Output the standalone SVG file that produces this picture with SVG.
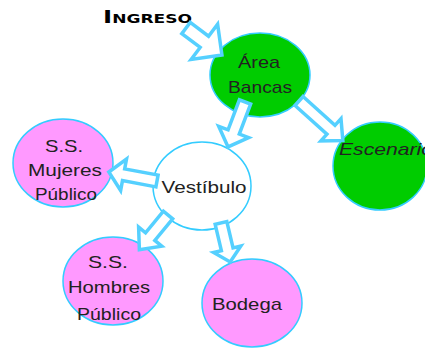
<svg xmlns="http://www.w3.org/2000/svg" width="425" height="348" viewBox="0 0 425 348">
<style>
.n{stroke:#33ccff;stroke-width:1.5}
.g{fill:#00cc00}
.p{fill:#ff99ff}
.w{fill:#ffffff}
.t{font-family:"Liberation Sans","DejaVu Sans",sans-serif;font-size:17px;fill:#222222}
.a{fill:#ffffff;stroke:#55d0ff;stroke-width:3.5;stroke-linejoin:miter}
</style>
<rect width="425" height="348" fill="#ffffff"/>
<text x="103" y="23" font-family="DejaVu Sans,sans-serif" font-weight="bold" fill="#000" textLength="89" lengthAdjust="spacingAndGlyphs"><tspan font-size="18">I</tspan><tspan font-size="12.5">NGRESO</tspan></text>
<g id="area-bancas">
<ellipse class="n g" cx="260" cy="75" rx="50" ry="42"/>
<text class="t" x="259" y="68" text-anchor="middle" textLength="42" lengthAdjust="spacingAndGlyphs">Área</text>
<text class="t" x="260" y="93" text-anchor="middle" textLength="64" lengthAdjust="spacingAndGlyphs">Bancas</text>
</g>
<g id="escenario">
<ellipse class="n g" cx="380" cy="166" rx="47" ry="44"/>
<text class="t" x="339" y="155" font-style="italic" textLength="94" lengthAdjust="spacingAndGlyphs">Escenario</text>
</g>
<g id="ss-mujeres">
<ellipse class="n p" cx="63" cy="163" rx="50" ry="44"/>
<text class="t" x="64" y="152" text-anchor="middle" textLength="38" lengthAdjust="spacingAndGlyphs">S.S.</text>
<text class="t" x="65" y="176" text-anchor="middle" textLength="74" lengthAdjust="spacingAndGlyphs">Mujeres</text>
<text class="t" x="66" y="200" text-anchor="middle" textLength="62" lengthAdjust="spacingAndGlyphs">Público</text>
</g>
<g id="vestibulo">
<ellipse class="n w" cx="202" cy="186" rx="49" ry="44"/>
<text class="t" x="204" y="193" text-anchor="middle" textLength="85" lengthAdjust="spacingAndGlyphs">Vestíbulo</text>
</g>
<g id="ss-hombres">
<ellipse class="n p" cx="113" cy="281" rx="50" ry="44"/>
<text class="t" x="108" y="268" text-anchor="middle" textLength="40" lengthAdjust="spacingAndGlyphs">S.S.</text>
<text class="t" x="109" y="293" text-anchor="middle" textLength="82" lengthAdjust="spacingAndGlyphs">Hombres</text>
<text class="t" x="109" y="320" text-anchor="middle" textLength="64" lengthAdjust="spacingAndGlyphs">Público</text>
</g>
<g id="bodega">
<ellipse class="n p" cx="252" cy="303" rx="50" ry="44"/>
<text class="t" x="247" y="310" text-anchor="middle" textLength="70" lengthAdjust="spacingAndGlyphs">Bodega</text>
</g>
<g id="connectors">
<path class="a" transform="translate(186,28) rotate(37)" d="M0,-7 L23,-7 L23,-22 L45,0 L23,22 L23,7 L0,7 Z"/>
<path class="a" transform="translate(245,102) rotate(110.7)" d="M0,-6 L32,-6 L32,-16 L48,0 L32,16 L32,6 L0,6 Z"/>
<path class="a" transform="translate(299,101) rotate(42)" d="M0,-6 L43,-6 L43,-15 L59,0 L43,15 L43,6 L0,6 Z"/>
<path class="a" transform="translate(157,181) rotate(190.6)" d="M0,-6 L34,-6 L34,-16 L49,0 L34,16 L34,6 L0,6 Z"/>
<path class="a" transform="translate(168,215) rotate(129.5)" d="M0,-6 L28,-6 L28,-15 L45,0 L28,15 L28,6 L0,6 Z"/>
<path class="a" transform="translate(221,223) rotate(76.7)" d="M0,-6 L27,-6 L27,-14 L40,0 L27,14 L27,6 L0,6 Z"/>
</g>
</svg>
